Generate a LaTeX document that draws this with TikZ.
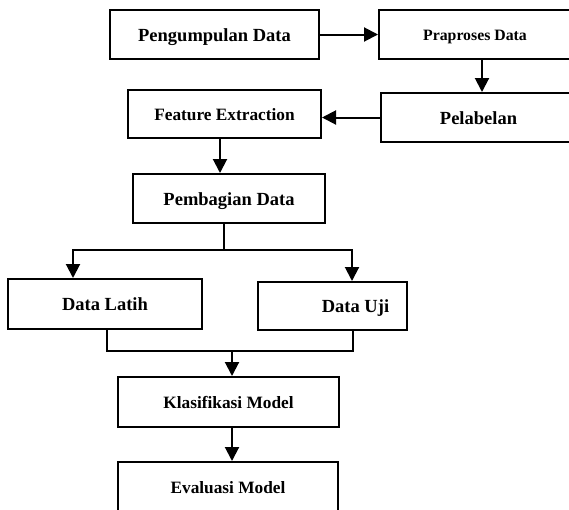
\documentclass[tikz,border=0pt]{standalone}
\usepackage{fontspec}
\setmainfont{Liberation Serif}
\usetikzlibrary{arrows.meta}
\begin{document}
\begin{tikzpicture}[x=1pt,y=-1pt,
  box/.style={draw,line width=2pt,rectangle,inner sep=0pt},
  big/.style={font=\bfseries\fontsize{18.5}{20}\selectfont,text height=13.5pt,text depth=0pt},
  mid/.style={font=\bfseries\fontsize{17.3}{19}\selectfont,text height=12.6pt,text depth=0pt},
  small/.style={font=\bfseries\fontsize{15.8}{18}\selectfont,text height=11.5pt,text depth=0pt},
  conn/.style={line width=2pt,line join=miter},
  arr/.style={conn,-{Triangle[length=14pt,width=14pt]}}]
\useasboundingbox (0,0) rectangle (569,509);
\clip (0,0) rectangle (569,509);
\node[box,big,minimum width=209pt,minimum height=49pt] (A) at (214.5,34.5) {Pengumpulan Data};
\node[box,small,minimum width=192pt,minimum height=49pt] (B) at (475,34.5) {Praproses Data};
\node[box,big,minimum width=195pt,minimum height=49pt] (C) at (478.5,117.5) {Pelabelan};
\node[box,mid,minimum width=193pt,minimum height=48pt] (D) at (224.5,114) {Feature Extraction};
\node[box,big,minimum width=192pt,minimum height=49pt] (E) at (229,198.5) {Pembagian Data};
\node[box,big,minimum width=194pt,minimum height=50pt] (F) at (105,304) {Data Latih};
\node[box,minimum width=149pt,minimum height=48pt] (G) at (332.5,306) {};
\node[big,inner sep=0pt] (Glbl) at (355.5,306) {Data Uji};
\node[box,mid,minimum width=221pt,minimum height=50pt] (H) at (228.5,402) {Klasifikasi Model};
\node[box,mid,minimum width=220pt,minimum height=50pt] (I) at (228,487) {Evaluasi Model};
\coordinate (bc) at (482,0);
\coordinate (dc) at (220,0);
\coordinate (sp) at (224,250);
\coordinate (l1) at (73,250);
\coordinate (r1) at (352,250);
\coordinate (m) at (232,351);
\coordinate (fl) at (107,351);
\coordinate (gr) at (353,351);
\draw[arr] (A.east) -- (B.west);
\draw[arr] (B.south -| bc) -- (C.north -| bc);
\draw[arr] (C.west) -- (C.west -| D.east);
\draw[arr] (D.south -| dc) -- (E.north -| dc);
\draw[conn] (E.south -| sp) -- (sp);
\draw[arr] (sp) -- (l1) -- (l1 |- F.north);
\draw[arr] (sp) -- (r1) -- (r1 |- G.north);
\draw[conn] (fl |- F.south) -- (fl) -- (gr) -- (gr |- G.south);
\draw[arr] (m) -- (m |- H.north);
\draw[arr] (H.south -| m) -- (I.north -| m);
\end{tikzpicture}
\end{document}
